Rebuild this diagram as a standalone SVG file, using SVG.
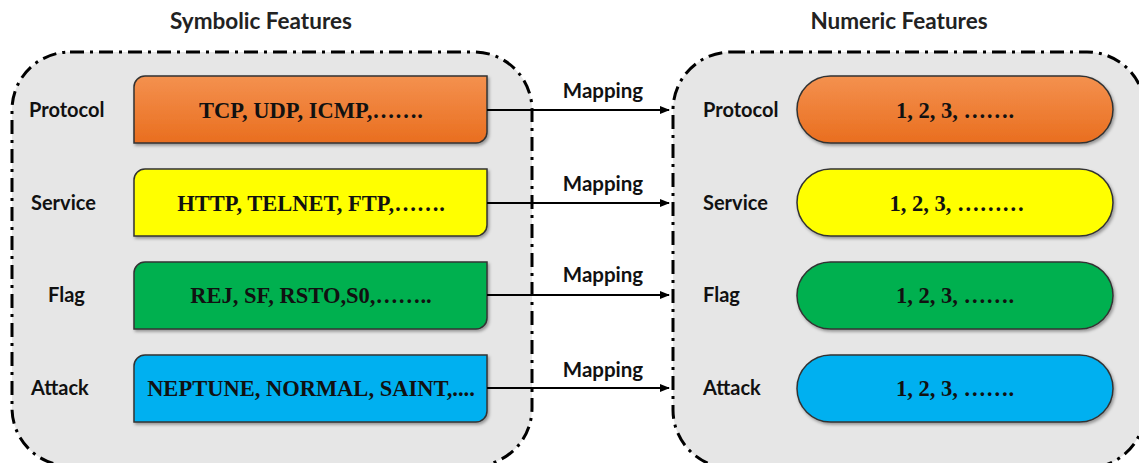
<svg xmlns="http://www.w3.org/2000/svg" xmlns:xlink="http://www.w3.org/1999/xlink" width="1139" height="463" viewBox="0 0 1139 463">
  <style>
    .panel { fill: #e6e6e6; stroke: #000; stroke-width: 3; stroke-dasharray: 14 6 3 6; }
    .title { font-family: Lato, "Open Sans", "Liberation Sans", sans-serif; font-weight: bold; font-size: 22.5px; fill: #222; text-anchor: middle; }
    .lbl { font-family: Lato, "Open Sans", "Liberation Sans", sans-serif; font-weight: bold; font-size: 20px; fill: #111; }
    .val { font-family: "Liberation Serif", "Times New Roman", serif; font-weight: bold; font-size: 22.5px; fill: #111; text-anchor: middle; }
    .shape { stroke: #333; stroke-width: 1.5; filter: url(#shadow); }
    .orange { fill: url(#orangeGrad); }
    .yellow { fill: #ffff00; }
    .green { fill: #00b050; }
    .blue { fill: #00b0f0; }
    .link { stroke: #000; stroke-width: 2; fill: none; marker-end: url(#arrow); }
    .map { font-family: Lato, "Open Sans", "Liberation Sans", sans-serif; font-weight: bold; font-size: 20.5px; fill: #111; text-anchor: middle; }
  </style>
  <defs>
    <linearGradient id="orangeGrad" x1="0" y1="0" x2="0" y2="1">
      <stop offset="0" stop-color="#f4914f"/>
      <stop offset="1" stop-color="#e96e1f"/>
    </linearGradient>
    <filter id="shadow" x="-5%" y="-10%" width="110%" height="130%">
      <feDropShadow dx="1.5" dy="2" stdDeviation="1.5" flood-color="#000" flood-opacity="0.35"/>
    </filter>
    <!-- rectangle with rounded top-left and bottom-right corners, 353 x 67 -->
    <path id="diag" d="M11,0 H353 V56 A11,11 0 0 1 342,67 H0 V11 A11,11 0 0 1 11,0 Z"/>
    <marker id="arrow" markerWidth="10" markerHeight="8" refX="9" refY="4" orient="auto" markerUnits="userSpaceOnUse">
      <path d="M0,0 L10,4 L0,8 Z" fill="#000"/>
    </marker>
  </defs>

  <rect width="1139" height="463" fill="#fff"/>

  <!-- panels -->
  <g id="symbolic-panel">
    <rect class="panel" x="12" y="52" width="520" height="414" rx="58" ry="58"/>
    <text class="title" x="261" y="29">Symbolic Features</text>
  </g>
  <g id="numeric-panel">
    <rect class="panel" x="673" y="52" width="472" height="416" rx="58" ry="58"/>
    <text class="title" x="899" y="29">Numeric Features</text>
  </g>

  <!-- symbolic feature boxes -->
  <g id="sym-protocol">
    <text class="lbl" x="29" y="117">Protocol</text>
    <use xlink:href="#diag" class="shape orange" x="134" y="76"/>
    <text class="val" x="311" y="118">TCP, UDP, ICMP,…….</text>
  </g>
  <g id="sym-service">
    <text class="lbl" x="31" y="210">Service</text>
    <use xlink:href="#diag" class="shape yellow" x="134" y="169"/>
    <text class="val" x="311" y="211">HTTP, TELNET, FTP,…….</text>
  </g>
  <g id="sym-flag">
    <text class="lbl" x="48" y="302">Flag</text>
    <use xlink:href="#diag" class="shape green" x="134" y="262"/>
    <text class="val" x="311" y="303">REJ, SF, RSTO,S0,……..</text>
  </g>
  <g id="sym-attack">
    <text class="lbl" x="31" y="395">Attack</text>
    <use xlink:href="#diag" class="shape blue" x="134" y="355"/>
    <text class="val" x="311" y="396">NEPTUNE, NORMAL, SAINT,....</text>
  </g>

  <!-- numeric feature pills -->
  <g id="num-protocol">
    <text class="lbl" x="703" y="117">Protocol</text>
    <rect class="shape orange" x="797" y="76" width="316" height="67" rx="33.5" ry="33.5"/>
    <text class="val" x="955" y="118">1, 2, 3, …….</text>
  </g>
  <g id="num-service">
    <text class="lbl" x="703" y="210">Service</text>
    <rect class="shape yellow" x="797" y="169" width="316" height="67" rx="33.5" ry="33.5"/>
    <text class="val" x="957" y="211">1, 2, 3, ………</text>
  </g>
  <g id="num-flag">
    <text class="lbl" x="703" y="302">Flag</text>
    <rect class="shape green" x="797" y="262" width="316" height="67" rx="33.5" ry="33.5"/>
    <text class="val" x="955" y="303">1, 2, 3, …….</text>
  </g>
  <g id="num-attack">
    <text class="lbl" x="703" y="395">Attack</text>
    <rect class="shape blue" x="797" y="355" width="316" height="67" rx="33.5" ry="33.5"/>
    <text class="val" x="955" y="396">1, 2, 3, …….</text>
  </g>

  <!-- mapping connectors -->
  <g id="connectors">
    <line class="link" x1="487" y1="110" x2="669" y2="110"/>
    <text class="map" x="603" y="98">Mapping</text>
    <line class="link" x1="487" y1="203" x2="669" y2="203"/>
    <text class="map" x="603" y="191">Mapping</text>
    <line class="link" x1="487" y1="295" x2="669" y2="295"/>
    <text class="map" x="603" y="282">Mapping</text>
    <line class="link" x1="487" y1="388" x2="669" y2="388"/>
    <text class="map" x="603" y="377">Mapping</text>
  </g>
</svg>
